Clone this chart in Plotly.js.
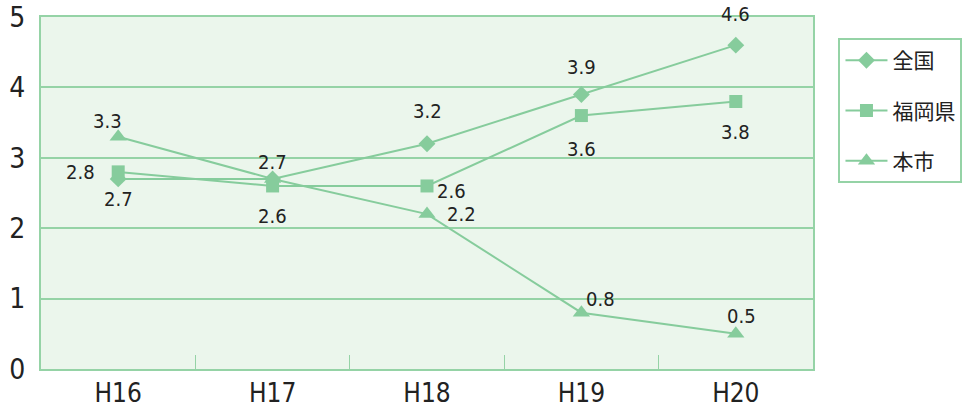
<!DOCTYPE html>
<html>
<head>
<meta charset="utf-8">
<script src="https://cdn.plot.ly/plotly-3.0.1.min.js"></script>
<style>html,body{margin:0;padding:0;background:#fff;}#chart{width:980px;height:414px;}</style>
</head>
<body>
<div id="chart"></div>
<script>
const categories = ["H16", "H17", "H18", "H19", "H20"];
const seriesNames = ["全国", "福岡県", "本市"];
const zenkoku = [2.7, 2.7, 3.2, 3.9, 4.6];
const fukuokaken = [2.8, 2.6, 2.6, 3.6, 3.8];
const honshi = [3.3, 2.7, 2.2, 0.8, 0.5];
const yTicks = [0, 1, 2, 3, 4, 5];

// label offsets in pixels (style only), null = no label
const labelOffsets = [
  [[0, 20], [0, -17], [0, -33], [0, -27], [0, -31]],
  [[-38, 0], [0, 30], [24, 5], [0, 33], [0, 31]],
  [[-11, -16], null, [34, 0], [19, -14], [6, -18]]
];

const green = "#86cc9c";
const gridGreen = "#95d3a6";
const font = "'Liberation Sans Narrow', 'DejaVu Sans Condensed', 'DejaVu Sans', sans-serif";
const allSeries = [zenkoku, fukuokaken, honshi];
const symbols = ["diamond", "square", "triangle-up"];
const sizes = [13, 13, 15];

const traces = allSeries.map((vals, i) => ({
  type: "scatter",
  mode: "lines+markers",
  name: seriesNames[i],
  legendgroup: "g" + i,
  x: categories,
  y: vals,
  line: {color: green, width: 2},
  marker: {symbol: symbols[i], size: sizes[i], color: green},
  hoverinfo: "skip"
}));

const annotations = [];
allSeries.forEach((vals, i) => {
  vals.forEach((v, j) => {
    const off = labelOffsets[i][j];
    if (!off) return;
    annotations.push({
      x: categories[j], y: v, xref: "x", yref: "y",
      text: v.toFixed(1), showarrow: false,
      xshift: off[0], yshift: -off[1],
      font: {family: font, size: 20, color: "#222", stretch: "condensed"}
    });
  });
});

const layout = {
  width: 980, height: 414,
  margin: {l: 41, r: 167, t: 17, b: 45},
  paper_bgcolor: "#ffffff",
  plot_bgcolor: "#ebf6ec",
  showlegend: true,
  legend: {
    x: 1.033, y: 0.94, xanchor: "left", yanchor: "top",
    bgcolor: "#ffffff", bordercolor: gridGreen, borderwidth: 2,
    font: {family: "'Noto Sans CJK JP', sans-serif", size: 21, color: "#222"},
    traceorder: "grouped", tracegroupgap: 20, itemwidth: 42
  },
  xaxis: {
    type: "category",
    range: [-0.5, 4.5],
    showgrid: false,
    showline: true, linecolor: gridGreen, linewidth: 2, mirror: true,
    ticks: "inside", tickson: "boundaries", ticklen: 14, tickcolor: gridGreen, tickwidth: 1,
    tickfont: {family: font, size: 26, color: "#222", stretch: "condensed"},
    fixedrange: true
  },
  yaxis: {
    range: [0, 5],
    tickvals: yTicks,
    ticktext: yTicks.map(String),
    showgrid: true, gridcolor: gridGreen, gridwidth: 2,
    zeroline: false,
    showline: true, linecolor: gridGreen, linewidth: 2, mirror: true,
    ticks: "", ticklabelstandoff: 8,
    tickfont: {family: font, size: 28, color: "#222", stretch: "condensed"},
    fixedrange: true
  },
  annotations: annotations
};

Plotly.newPlot("chart", traces, layout, {displayModeBar: false, staticPlot: true});
</script>
</body>
</html>
